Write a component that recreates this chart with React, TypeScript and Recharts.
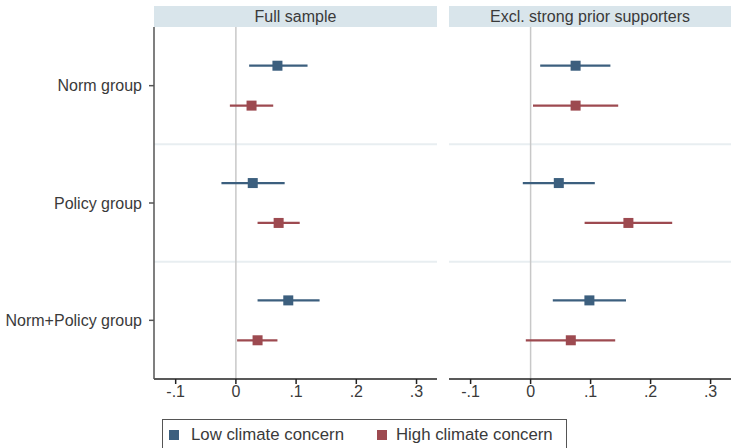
import React from 'react';
import {
  ScatterChart, Scatter, XAxis, YAxis, ErrorBar, ReferenceLine,
} from 'recharts';

const groups = ['Norm group', 'Policy group', 'Norm+Policy group'];
const panels = ['Full sample', 'Excl. strong prior supporters'];
const xTicks = [-0.1, 0, 0.1, 0.2, 0.3];
const xTickLabels = ['-.1', '0', '.1', '.2', '.3'];

// estimates and 95% CIs, one entry per group
const fullLowEst = [0.069, 0.028, 0.087];
const fullLowLo = [0.022, -0.024, 0.036];
const fullLowHi = [0.119, 0.081, 0.139];
const fullHighEst = [0.026, 0.071, 0.036];
const fullHighLo = [-0.010, 0.036, 0.002];
const fullHighHi = [0.062, 0.106, 0.069];

const exclLowEst = [0.075, 0.047, 0.098];
const exclLowLo = [0.016, -0.013, 0.037];
const exclLowHi = [0.133, 0.107, 0.159];
const exclHighEst = [0.075, 0.163, 0.067];
const exclHighLo = [0.004, 0.090, -0.008];
const exclHighHi = [0.146, 0.236, 0.141];

const BLUE = '#3c5f7e';
const RED = '#9d4a50';
const TXT = '#3a3a3a';
const FONT = '"Liberation Sans", Arial, sans-serif';
const OFFSET = 0.17;

const build = (est: number[], lo: number[], hi: number[], off: number) =>
  est.map((v, i) => ({ x: v, y: i + 1 + off, err: [v - lo[i], hi[i] - v] }));

const squareShape = (color: string) => (props: any) => (
  <rect x={props.cx - 5} y={props.cy - 5} width={10} height={10} fill={color} />
);

const Panel = ({ low, high, showY, width }: { low: any[]; high: any[]; showY: boolean; width: number }) => (
  <ScatterChart
    width={width}
    height={448}
    margin={{ top: 27, right: showY ? 3 : 0, bottom: 39, left: 0 }}
    style={{ fontFamily: FONT }}
  >
    <XAxis
      type="number"
      dataKey="x"
      domain={[-0.136, 0.334]}
      allowDataOverflow
      ticks={xTicks}
      tickFormatter={(v: number) => xTickLabels[xTicks.findIndex((t) => Math.abs(t - v) < 1e-9)]}
      height={30}
      tickSize={5}
      tickMargin={2}
      stroke="#222"
      strokeWidth={1.5}
      tick={{ fill: TXT, fontSize: 16 }}
    />
    <YAxis
      type="number"
      dataKey="y"
      domain={[0.5, 3.5]}
      reversed
      ticks={[1, 2, 3]}
      tickFormatter={(v: number) => groups[v - 1]}
      width={showY ? 154 : 0}
      hide={!showY}
      tickSize={5}
      tickMargin={7}
      stroke="#555"
      strokeWidth={1.5}
      tick={{ fill: TXT, fontSize: 16 }}
      allowDataOverflow
    />
    <ReferenceLine y={1.5} stroke="#e8eef1" strokeWidth={2} />
    <ReferenceLine y={2.5} stroke="#e8eef1" strokeWidth={2} />
    <ReferenceLine x={0} stroke="#c8c8c8" strokeWidth={1.5} />
    <Scatter data={low} fill={BLUE} shape={squareShape(BLUE)} isAnimationActive={false}>
      <ErrorBar dataKey="err" direction="x" width={0} stroke={BLUE} strokeWidth={2.2} />
    </Scatter>
    <Scatter data={high} fill={RED} shape={squareShape(RED)} isAnimationActive={false}>
      <ErrorBar dataKey="err" direction="x" width={0} stroke={RED} strokeWidth={2.2} />
    </Scatter>
  </ScatterChart>
);

const stripStyle = (left: number, width: number): React.CSSProperties => ({
  position: 'absolute', left, top: 6, width, height: 21, background: '#d9e5eb',
  color: TXT, fontSize: 16, lineHeight: '21px', textAlign: 'center', fontFamily: FONT,
});

export default function App() {
  return (
    <div style={{ position: 'absolute', left: 0, top: 0, width: 731, height: 448, background: '#fff', overflow: 'hidden' }}>
      <div style={stripStyle(154, 283)}>{panels[0]}</div>
      <div style={stripStyle(449, 282)}>{panels[1]}</div>
      <div style={{ position: 'absolute', left: 0, top: 0 }}>
        <Panel
          low={build(fullLowEst, fullLowLo, fullLowHi, -OFFSET)}
          high={build(fullHighEst, fullHighLo, fullHighHi, OFFSET)}
          showY
          width={440}
        />
      </div>
      <div style={{ position: 'absolute', left: 449, top: 0 }}>
        <Panel
          low={build(exclLowEst, exclLowLo, exclLowHi, -OFFSET)}
          high={build(exclHighEst, exclHighLo, exclHighHi, OFFSET)}
          showY={false}
          width={282}
        />
      </div>
      <div style={{
        position: 'absolute', left: 162, top: 419, width: 403, height: 40,
        border: '1px solid #555', fontFamily: FONT, fontSize: 16.8, color: TXT,
      }}>
        <div style={{ position: 'absolute', left: 6, top: 10, width: 10, height: 10, background: BLUE }} />
        <div style={{ position: 'absolute', left: 28, top: 5, lineHeight: '20px' }}>Low climate concern</div>
        <div style={{ position: 'absolute', left: 214, top: 10, width: 10, height: 10, background: RED }} />
        <div style={{ position: 'absolute', left: 233, top: 5, lineHeight: '20px' }}>High climate concern</div>
      </div>
    </div>
  );
}
